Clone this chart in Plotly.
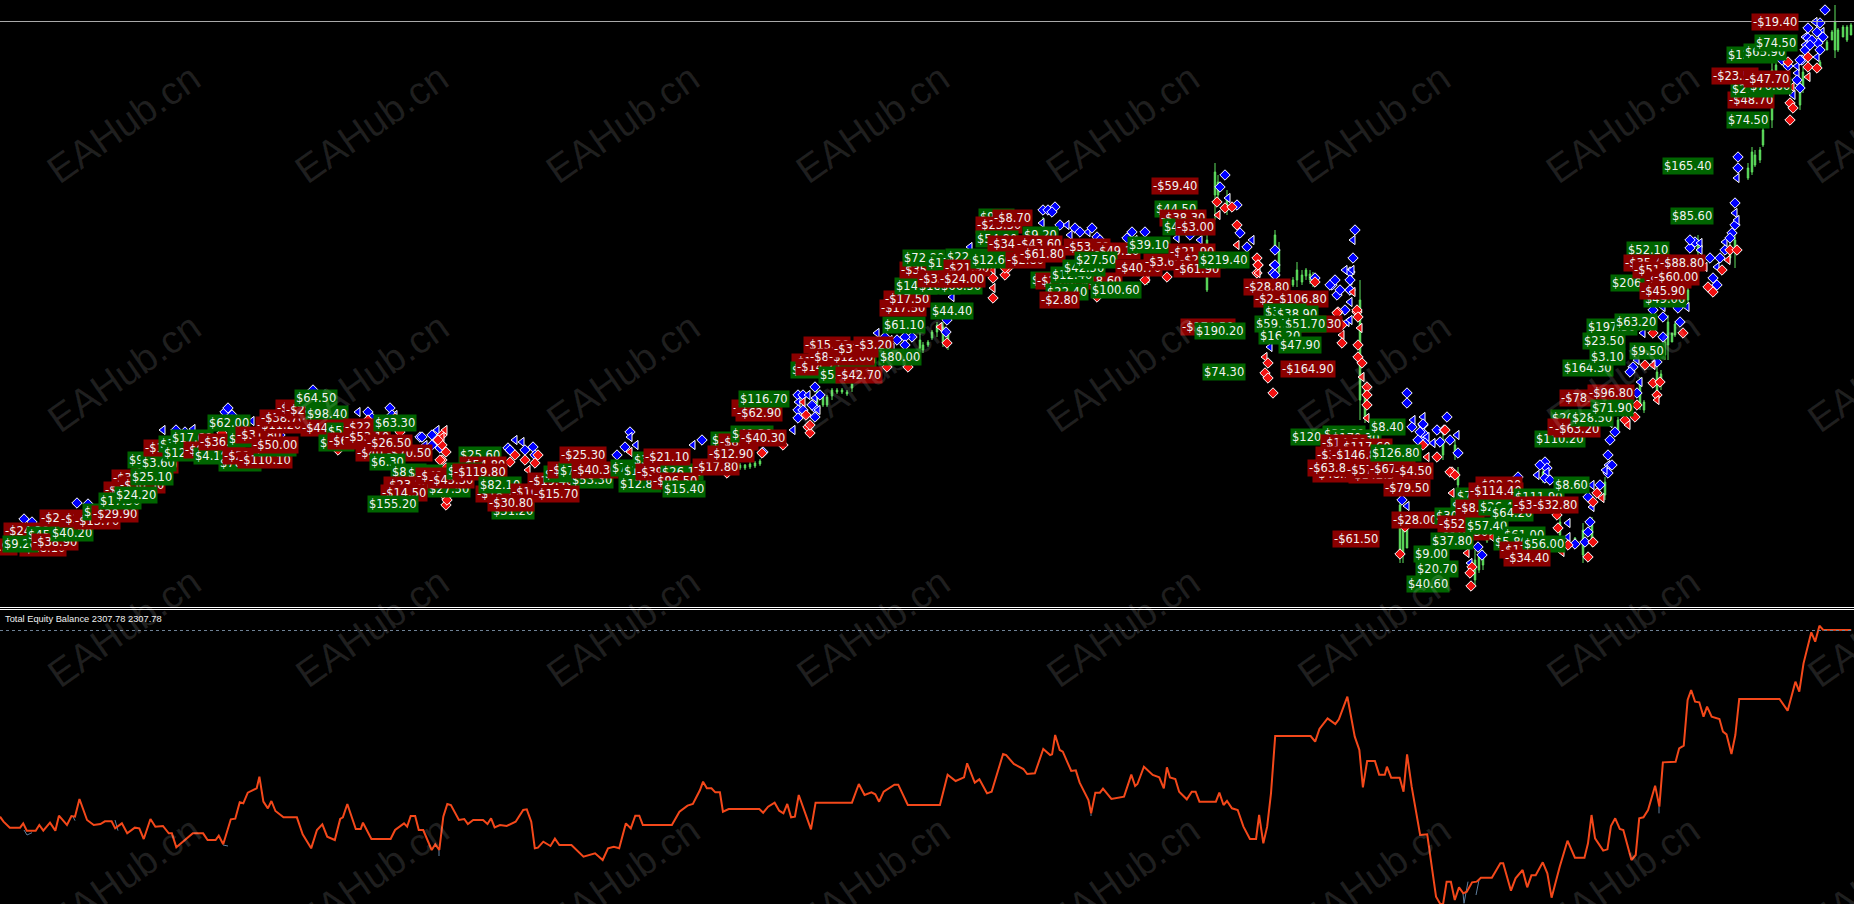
import plotly.graph_objects as go

# ---------- equity panel readings (three overlapping readings across the panel) ----------
equity_left_pos = [0,8,22,45,52,60,80,88,97,112,124,132,150,160,168,178,195,210,225,235,250,258,273,285,302,312,322,337,348,365,378,385,395,432,455,465,483,490,500,517,527,537,545,555,575,581,590,600,608,617,635,665,678,697,710,722,733,750,762,768,778,797,808,813,832,875,885,905,912,920,930,938,948,967,975,984,993,1002,1010,1028,1040,1048,1060,1082,1092,1100,1108,1120,1135,1155,1172,1180,1190,1198,1205,1217,1233,1243,1253,1280,1307,1333,1350,1362,1375,1387,1402,1413,1423,1432,1440,1505,1522,1540,1552,1568]
equity_left_val = [650,665,683,683,670,692,692,675,692,668,692,647,675,648,650,597,660,675,672,664,664,685,670,700,683,685,717,657,680,678,700,700,742,700,700,720,720,707,733,658,656,607,610,578,565,530,605,625,603,633,652,652,703,745,690,673,710,720,657,652,612,687,687,668,717,717,690,670,680,648,648,690,690,750,733,750,650,612,615,660,657,672,660,660,672,655,682,675,678,665,630,628,665,745,743,725,738,716,735,735,770,760,780,745,740,745,670,685,647,647,675,675,635,617,612,570]
equity_mid_pos = [8,18,30,40,52,60,75,155,165,178,195,207,218,228,238,248,258,275,290,302,397,415,430,448,458,468,480,508,518,543,627,647,668,690,698,718,730,750,762,792,800,820,845,855,875,897,915,920,928,940,948,970,982,992,1005,1015,1022,1033,1045,1053,1075,1108,1127,1137,1143,1160,1183,1200,1212,1220,1228,1242,1252,1272,1285,1295,1305,1348,1357,1368,1377,1390,1405,1420,1437,1453,1461,1472,1482,1492,1503,1568]
equity_mid_val = [545,565,565,577,577,635,627,627,638,620,608,632,640,612,652,650,585,640,688,608,608,552,585,577,583,605,575,554,554,615,615,524,543,532,490,548,538,580,575,462,465,492,507,522,520,447,465,463,405,450,455,513,511,548,575,600,640,578,578,566,597,590,524,558,552,500,525,532,565,502,532,537,575,598,575,575,605,605,578,615,603,625,630,680,717,717,645,730,680,580,408,408]
equity_right_pos = [30,43,55,78,100,110,134,155,168,178,190,212,224,240,246,258,282,293,303,316,340,360,385,397,405,415,427,438,450,462,472,487,500,512,543,567,575,597,610,630,643,655,667,687,700,712,735,757,778,805,815,825,835,858,870,880,892,905,915,938,950,960,972,985,1005,1017,1027,1063,1073,1086,1097,1107,1118,1130,1142,1152,1165,1187,1197,1207,1221,1232,1243,1357,1380,1402,1413,1425,1447,1458,1470,1480,1560]
equity_right_val = [408,425,387,355,372,358,290,410,450,562,483,483,524,524,500,533,533,575,463,560,705,703,890,912,912,845,845,900,862,880,875,847,845,833,833,790,790,872,835,810,862,826,826,787,820,893,800,722,773,773,730,645,715,752,748,678,655,687,690,780,765,655,652,630,557,620,487,485,445,437,300,270,305,307,350,320,350,357,395,403,462,405,297,297,332,245,275,190,97,125,77,89,90]
# balance line, only where it separates from equity
balance_pos = [24,27,32,None,73,75,None,115,118,None,223,228,None,439,439,None,1463,1464,1468,None,1476,1479,None,1659,1659,None,1091,1091]
balance_val = [690,705,698,None,650,662,None,660,692,None,735,738,None,750,768,None,880,910,845,None,885,840,None,620,640,None,640,648]

# ---------- candles (price-panel rows) ----------
candle_x = [740,745,750,755,760,817,823,827,832,837,842,847,852,920,923,928,932,937,943,948,1043,1147,1207,1215,1218,1227,1275,1279,1293,1297,1302,1306,1310,1313,1360,1365,1400,1403,1407,1443,1455,1458,1475,1479,1483,1487,1490,1543,1560,1575,1583,1592,1605,1618,1640,1644,1657,1661,1665,1668,1672,1675,1688,1698,1730,1735,1748,1752,1755,1760,1763,1772,1776,1800,1803,1820,1827,1832,1835,1838,1843,1847,1851]
candle_high = [463,464,462,461,459,387,395,395,388,388,388,390,382,333,342,340,330,322,322,330,217,277,230,163,175,190,230,242,277,262,270,268,270,272,280,383,493,513,527,433,440,467,550,553,550,533,527,468,517,537,523,517,477,417,377,400,367,370,337,315,333,322,283,235,240,233,163,147,150,147,127,62,60,80,67,60,40,30,5,28,25,25,23]
candle_low = [470,470,469,468,466,407,407,407,400,394,394,396,392,353,353,347,340,337,347,350,227,285,292,220,200,215,253,277,287,287,285,280,284,287,420,423,563,563,548,460,460,490,587,573,570,543,540,483,540,548,563,547,500,433,410,413,397,390,360,360,342,337,307,257,263,268,180,175,167,163,147,128,87,110,93,70,50,40,58,52,37,42,35]
candle_open = [468,468,467,466,464,405,405,405,396,392,392,394,388,350,350,345,338,332,342,345,225,283,290,195,195,210,248,272,285,280,282,276,280,284,400,418,550,555,548,455,455,485,580,570,565,541,538,480,535,546,555,542,495,430,405,410,393,385,355,345,342,335,300,252,258,250,178,172,165,160,145,120,82,105,88,68,50,40,50,50,37,40,35]
candle_close = [465,465,464,463,461,392,397,397,390,390,390,392,384,340,345,342,332,325,327,335,220,279,240,172,182,198,235,250,280,270,275,270,274,277,300,390,505,525,527,440,445,472,560,557,555,535,530,472,522,538,530,525,482,420,382,402,372,374,342,322,333,324,290,240,245,240,168,152,155,150,130,70,65,85,72,62,42,32,22,30,27,27,25]

# ---------- trade arrows ----------
blue_x = [24,32,45,77,88,163,176,185,193,225,232,252,280,313,322,330,337,345,368,390,395,420,432,437,422,508,522,533,630,630,625,617,693,702,763,793,815,798,798,798,798,815,815,815,877,885,912,952,947,946,970,1043,1055,1042,1060,1075,1088,1097,1132,1177,1225,1220,1228,1237,1240,1252,1247,1275,1273,1273,1355,1353,1353,1350,1350,1315,1332,1347,1275,1275,1352,1350,1350,1350,1330,1337,1270,1407,1407,1423,1423,1423,1423,1412,1447,1457,1458,1440,1433,1450,1402,1407,1478,1482,1470,1545,1547,1537,1545,1518,1592,1600,1588,1592,1590,1588,1568,1585,1575,1568,1610,1608,1608,1608,1735,1735,1735,1732,1725,1730,1695,1700,1690,1720,1717,1713,1717,1663,1653,1663,1687,1678,1680,1643,1663,1657,1637,1633,1630,1640,1637,1615,1610,1825,1820,1822,1808,1817,1805,1808,1823,1805,1818,1802,1817,1782,1788,1797,1797,1800,1793,1738,1738,1737,
          228,232,317,325,330,358,372,392,425,432,437,428,440,510,515,525,535,636,803,803,808,812,820,818,905,897,890,905,877,892,1048,1052,1067,1080,1092,1070,1100,1127,1135,1145,1190,1200,1335,1340,1345,1350,1345,1350,1423,1420,1427,1418,1425,1413,1437,1444,1547,1550,1540,1605,1612,1690,1700,1710,1725,1737,1805,1812,1815,1810,1820,1797,1800]
blue_y = [519,522,530,503,504,430,430,432,429,412,415,421,435,390,402,415,415,421,412,408,415,437,435,430,437,448,442,447,432,437,447,455,445,440,452,430,387,395,402,410,418,398,408,417,333,337,337,297,320,332,247,210,207,223,225,228,232,237,232,238,175,187,198,205,233,240,247,250,265,273,230,240,258,272,280,278,285,322,265,275,270,280,290,302,285,295,347,393,403,417,425,433,440,427,417,435,453,442,443,440,500,506,547,555,563,462,468,475,478,477,485,485,497,507,522,532,537,542,544,523,440,455,465,473,203,213,225,233,242,238,242,243,248,258,267,278,285,307,310,317,307,308,322,333,337,362,360,367,372,382,393,432,423,10,23,32,28,32,37,38,37,45,43,60,57,60,66,73,80,88,95,157,168,178,
          408,420,398,395,408,412,418,415,445,445,440,450,448,450,440,450,455,445,395,410,395,405,395,410,337,340,340,345,342,348,210,212,225,232,228,235,240,238,240,232,235,240,280,290,270,290,310,320,424,432,437,440,443,420,430,430,472,480,465,470,465,240,250,258,250,220,50,40,22,45,50,66,60]
red_x = [68,133,222,273,338,368,395,395,442,442,442,442,446,446,325,442,447,510,535,630,727,762,783,803,808,810,993,993,993,1005,1008,940,947,908,887,1147,1167,1097,1217,1218,1225,1232,1237,1237,1257,1258,1257,1353,1338,1357,1258,1258,1315,1337,1342,1342,1342,1357,1358,1360,1358,1358,1362,1362,1367,1367,1367,1367,1265,1268,1273,1265,1268,1445,1423,1427,1437,1452,1400,1467,1472,1470,1471,1492,1557,1558,1568,1562,1588,1593,1593,1602,1597,1450,1455,1452,1405,1730,1737,1728,1722,1708,1713,1705,1683,1653,1645,1653,1653,1660,1657,1657,1635,1637,1625,1628,1808,1808,1817,1808,1790,1793,1790,1792,1788,
         322,335,338,395,400,438,445,446,446,448,428,440,515,525,528,538,806,810,993,1005,1145]
red_y = [532,490,433,440,450,420,422,428,435,445,460,475,497,505,408,437,500,462,463,452,473,453,445,402,427,433,278,288,298,275,268,327,343,367,367,278,277,297,202,215,208,207,225,245,258,265,273,292,312,312,265,273,282,313,325,335,343,310,317,328,345,357,363,377,387,395,405,418,373,378,393,357,363,430,445,457,457,472,554,553,567,573,586,537,515,528,545,552,557,542,502,498,493,472,475,493,527,250,250,260,270,287,292,267,333,333,365,365,383,382,395,400,417,405,420,425,57,67,68,77,103,108,120,87,62,
         410,425,445,418,432,440,430,452,468,480,455,460,455,460,470,455,415,425,270,268,280]

# ---------- profit labels, drawn in this order ----------
label_text = ["-$28.10","-$24.30","$9.20","$45.40","-$38.90","$40.20","-$21.60","-$16.20","-$13.70","$26.40","-$29.90","-$31.60","-$37.40","-$30.50","$17.50","$24.20","-$40.10","$9.40","$3.60","$25.10","-$17.20","$30.70","$12.30","$17.60","-$9.50","$4.10","-$36.50","$62.00","$78.90","$9.70","-$21.40","-$110.10","-$31.80","$13.60","-$50.00","-$11.20","-$38.70","-$35.10","-$28.60","$64.50","$98.40","-$44.20","$6.90","$57.20","-$67.20","-$22.90","-$53.10","$63.30","-$40.90","-$70.50","$6.30","-$26.50","$8.60","$4.70","-$23.20","$27.50","-$14.50","$155.20","-$41.20","-$45.30","$25.60","-$54.80","$9.10","-$119.80","-$18.20","$82.10","-$16.20","$31.20","-$30.80","-$19.40","$14.30","-$32.60","$70.40","$53.30","-$15.70","-$40.30","-$25.30","$7.60","$18.40","$38.90","$12.80","-$39.20","$26.10","-$96.50","-$21.10","$15.40","$3.30","-$8.00","$41.30","-$17.80","-$12.90","-$40.30","-$19.30","-$62.90","$116.70","-$15.30","-$19.40","$37.40","-$14.70","-$8.10","$16.20","-$12.60","-$37.80","-$3.20","$5.80","-$42.70","$80.00","$61.10","-$17.50","-$17.50","$14.60","$18.30","$66.50","-$35.20","$72.80","$17.50","$22.70","-$33.10","-$21.90","-$24.00","$44.40","$9.60","-$23.50","-$8.70","$54.80","$9.20","-$34.80","$12.60","-$43.60","-$2.80","-$61.80","-$53.60","-$49.10","$9.70","-$24.30","-$18.60","$12.40","$42.50","$27.50","-$40.70","-$3.60","$22.40","-$2.80","$100.60","$44.50","-$59.40","-$38.30","$47.20","-$3.00","$39.10","-$21.90","-$27.80","-$61.90","$219.40","-$28.80","-$23.10","-$106.80","$33.20","$38.90","-$42.30","$59.70","$51.70","$16.20","$47.90","-$164.90","$74.30","-$174.50","$190.20","$120.60","$38.60","$170.30","$8.40","-$14.50","-$117.60","-$39.80","-$146.80","-$48.10","-$142.30","-$63.80","-$57.60","-$67.50","$126.80","-$4.50","-$79.50","-$28.00","-$61.50","$76.10","$9.60","$30.50","-$70.30","-$52.30","-$8.70","$37.80","$9.00","$20.70","$40.60","$26.40","-$90.20","-$114.40","$57.40","$64.20","$111.90","-$33.20","-$32.80","$61.00","$5.80","-$17.20","$56.00","-$34.40","$8.60","$110.20","$20.40","-$63.20","-$63.20","$28.50","-$78.80","-$96.80","$71.90","$164.30","$3.10","$23.50","$197.50","$63.20","$9.50","$206.40","$52.10","$49.00","-$35.40","-$51.90","-$27.30","-$45.90","-$60.00","-$88.80","$85.60","$165.40","$74.50","-$48.70","$27.30","$70.60","-$23.50","-$47.70","$128.70","$65.90","$74.50","-$19.40"]
label_left = [19,3,2,26,31,50,39,59,73,82,91,103,111,118,98,114,131,127,140,130,143,158,162,170,183,193,198,207,218,227,222,237,235,253,251,255,259,275,284,294,305,300,318,326,327,343,343,373,355,385,369,365,390,406,383,427,380,367,415,427,458,459,446,452,475,478,510,491,487,527,543,547,558,570,532,571,559,610,622,632,618,635,660,651,643,662,710,718,730,692,707,739,731,735,738,803,791,790,795,808,833,827,832,853,818,835,878,882,879,883,894,917,939,899,902,926,945,917,943,938,930,978,975,992,975,1022,987,970,1015,1005,1018,1063,1093,1030,1035,1075,1050,1062,1074,1115,1143,1045,1039,1090,1154,1151,1159,1162,1175,1127,1168,1178,1173,1198,1243,1253,1273,1263,1275,1295,1254,1283,1258,1278,1280,1202,1180,1194,1290,1322,1330,1369,1320,1337,1315,1330,1312,1348,1307,1345,1368,1370,1393,1383,1391,1332,1455,1450,1434,1442,1437,1455,1430,1413,1415,1406,1478,1475,1468,1465,1490,1513,1512,1531,1502,1493,1499,1522,1503,1553,1534,1550,1547,1553,1570,1559,1587,1590,1562,1589,1582,1586,1614,1629,1610,1626,1643,1623,1632,1644,1639,1652,1658,1670,1662,1726,1727,1730,1748,1711,1743,1726,1743,1754,1751]
label_row = [546,529,542,533,540,531,516,517,519,510,512,488,476,483,499,493,463,458,461,475,446,442,451,436,448,454,440,421,461,437,454,458,433,446,443,423,416,406,408,396,412,426,441,429,439,425,435,421,451,451,460,441,470,471,483,487,491,502,474,478,453,463,469,470,492,483,490,509,501,479,472,468,469,478,492,468,453,466,469,458,482,470,470,479,455,487,438,440,432,465,452,436,406,411,397,343,360,368,365,355,359,355,347,343,373,373,355,323,306,297,284,284,284,268,256,261,255,277,266,277,309,215,223,216,237,233,242,258,242,258,252,245,249,278,279,279,273,266,258,266,260,290,298,288,207,184,216,225,225,243,250,258,267,258,285,297,297,310,312,322,322,322,334,343,367,370,325,329,435,432,436,425,441,445,453,453,472,473,466,468,467,451,469,486,518,537,494,504,514,530,522,506,539,552,567,582,505,483,489,524,511,495,503,503,533,540,548,542,556,483,437,416,425,427,416,396,391,406,366,355,339,325,320,349,281,248,297,261,268,278,289,275,261,214,164,118,98,87,84,74,77,53,50,41,20]

watermark_text = "EAHub.cn"
watermark_cols = [124,372,623,873,1123,1374,1623]
watermark_rows = [124,372,627,875]

fig = go.Figure()

eq_x = [v/2.24 for v in equity_left_pos] + [700+v/2.613 for v in equity_mid_pos] + [1300+v/2.83 for v in equity_right_pos]
eq_y = equity_left_val + equity_mid_val + equity_right_val

fig.add_trace(go.Scatter(x=balance_pos, y=balance_val, mode="lines", yaxis="y2",
                         line=dict(color="#5f7f9f", width=1), connectgaps=False, showlegend=False))
fig.add_trace(go.Scatter(x=eq_x, y=eq_y, mode="lines", yaxis="y2",
                         line=dict(color="#f4481a", width=2), showlegend=False))
fig.add_trace(go.Candlestick(x=candle_x, open=candle_open, high=candle_high, low=candle_low, close=candle_close,
                             increasing=dict(line=dict(color="#5ee05e", width=1), fillcolor="#000000"),
                             decreasing=dict(line=dict(color="#5ee05e", width=1), fillcolor="#000000"),
                             whiskerwidth=0, showlegend=False))
blue_sym = ["triangle-left" if i % 3 == 2 else "diamond" for i in range(len(blue_x))]
fig.add_trace(go.Scatter(x=blue_x, y=blue_y, mode="markers", showlegend=False,
                         marker=dict(symbol=blue_sym, size=8, color="#0000ff", line=dict(color="#ffffff", width=1))))
red_sym = ["triangle-left" if i % 4 == 3 else "diamond" for i in range(len(red_x))]
fig.add_trace(go.Scatter(x=red_x, y=red_y, mode="markers", showlegend=False,
                         marker=dict(symbol=red_sym, size=8, color="#f01010", line=dict(color="#ffffff", width=1))))

ann = []
ann.append(dict(x=18, y=545, xref="x", yref="y", text="-$17.90", showarrow=False, xanchor="right", yanchor="middle",
                yshift=-1.5, font=dict(family="DejaVu Sans", size=11.5, color="#f2f2f2"), bgcolor="#8b0000", borderpad=1))
for t, l, r in zip(label_text, label_left, label_row):
    ann.append(dict(x=l, y=r, xref="x", yref="y", text=t, showarrow=False, xanchor="left", yanchor="middle",
                    yshift=-1.5, font=dict(family="DejaVu Sans", size=11.5, color="#f2f2f2"),
                    bgcolor="#8b0000" if t.startswith("-") else "#006400", borderpad=1))
ann.append(dict(x=3/1854, y=1-619/904, xref="paper", yref="paper", text="Total Equity Balance 2307.78 2307.78",
                showarrow=False, xanchor="left", yanchor="middle",
                font=dict(family="Liberation Sans", size=9.3, color="#f0f0f0")))
wm_font = dict(family="Liberation Sans", size=39, color="rgba(255,255,255,0.12)")
for r in watermark_rows:
    for c in watermark_cols:
        ann.append(dict(x=c/1854, y=1-r/904, xref="paper", yref="paper", text=watermark_text, showarrow=False,
                        textangle=-35, xanchor="center", yanchor="middle", font=wm_font))
    ann.append(dict(x=1797/1854, y=1-r/904, xref="paper", yref="paper", text=watermark_text, showarrow=False,
                    textangle=-35, xanchor="left", yanchor="middle", font=wm_font))

shapes = [
    dict(type="line", xref="paper", yref="paper", x0=0, x1=1, y0=1-21.5/904, y1=1-21.5/904,
         line=dict(color="#a9a9a9", width=1), layer="above"),
    dict(type="line", xref="paper", yref="paper", x0=0, x1=1, y0=1-607.5/904, y1=1-607.5/904,
         line=dict(color="#ffffff", width=1)),
    dict(type="line", xref="paper", yref="paper", x0=0, x1=1, y0=1-609.5/904, y1=1-609.5/904,
         line=dict(color="#ffffff", width=1)),
    dict(type="line", xref="paper", yref="paper", x0=0, x1=1, y0=1-630.5/904, y1=1-630.5/904,
         line=dict(color="#6f8296", width=1, dash="3px,3px"), layer="above"),
]

fig.update_layout(
    width=1854, height=904, autosize=False,
    margin=dict(l=0, r=0, t=0, b=0),
    paper_bgcolor="#000000", plot_bgcolor="#000000",
    showlegend=False, dragmode=False,
    xaxis=dict(range=[0, 1854], visible=False, fixedrange=True, rangeslider=dict(visible=False), domain=[0, 1]),
    yaxis=dict(range=[607, 0], visible=False, fixedrange=True, domain=[297/904, 1]),
    yaxis2=dict(range=[912, 0], visible=False, fixedrange=True, domain=[0, 304/904], anchor="x"),
    annotations=ann, shapes=shapes,
)
fig.write_html("out.html", config=dict(displayModeBar=False),
               post_script="document.documentElement.style.background='#000';document.body.style.margin='0';document.body.style.overflow='hidden';")
